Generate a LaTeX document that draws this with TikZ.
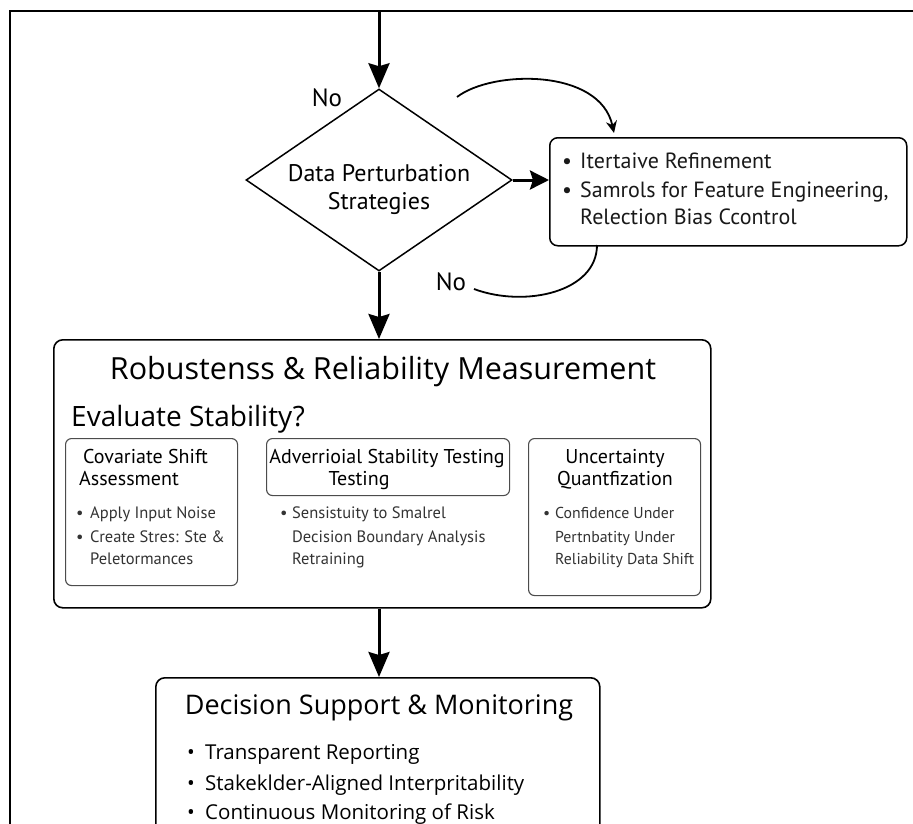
\documentclass[tikz,border=0pt]{standalone}
\usepackage{fontspec}
\setmainfont{Open Sans}
\newfontfamily\pts{PT Sans}
\usetikzlibrary{shapes.geometric,arrows.meta}

% bullet followed by a fixed hanging gap
\newcommand{\bul}[1]{\makebox[#1][l]{\textbullet}}

\tikzset{
  frameline/.style={line width=2pt, line cap=rect},
  bigbox/.style={draw, line width=1.6pt, rounded corners=9pt, anchor=north west, inner sep=0pt},
  subbox/.style={draw=black!70, line width=1.1pt, rounded corners=6pt, anchor=north west, inner sep=0pt},
  decision/.style={draw, diamond, line width=1.5pt, inner sep=0pt},
  flow/.style={line width=3pt, -{Stealth[length=25pt, width=21pt, inset=3pt]}},
  shortflow/.style={line width=3pt, -{Stealth[length=19pt, width=19pt, inset=3pt]}},
  loop/.style={line width=1.8pt},
  lbl/.style={inner sep=0pt, anchor=base west},
  ctr/.style={inner sep=0pt, anchor=base},
  side/.style={font=\pts\fontsize{22}{26}\selectfont, text=black!90},
  cell/.style={font=\pts\fontsize{16.5}{20}\selectfont, text=black!80},
  cellnarrow/.style={font=\pts\fontsize{15.8}{19}\selectfont, text=black!80},
  cellhead/.style={font=\pts\fontsize{20}{24}\selectfont, text=black},
  flowtext/.style={font=\pts\fontsize{24}{28}\selectfont},
}

\begin{document}
\begin{tikzpicture}[x=1pt, y=-1pt]
\clip (0,0) rectangle (913,823);
\fill[white] (0,0) rectangle (913,823);

% outer frame (open at right and bottom)
\draw[frameline] (920,11) -- (10,11) -- (10,830);

% decision diamond
\node[decision, minimum width=266pt, minimum height=182pt] (dec) at (379,180) {};
\node[ctr, flowtext] (decA) at (379,181) {Data Perturbation};
\node[ctr, flowtext] (decB) at (379,209) {Strategies};

% refinement box
\node[bigbox, minimum width=357pt, minimum height=108pt, line width=1.5pt, rounded corners=8pt] (refine) at (549,137) {};
\node[lbl, side] (r1) at (562,168) {\bul{18pt}Itertaive Refinement};
\node[lbl, side] (r2) at (562,197) {\bul{18pt}Samrols for Feature Engineering,};
\node[lbl, side] (r3) at (580,224) {Relection Bias Ccontrol};

% measurement box
\node[bigbox, minimum width=657pt, minimum height=268pt] (meas) at (53,339) {};
\node[ctr, font=\fontsize{30.5}{34}\selectfont] (measT) at (383,379) {Robustenss \& Reliability Measurement};
\node[lbl, font=\fontsize{28}{32}\selectfont] (evalQ) at (71,426) {Evaluate Stability?};

% covariate shift
\node[subbox, minimum width=172pt, minimum height=147pt] (cov) at (65,438) {};
\node[lbl, cellhead] (c1) at (83,463) {Covariate Shift};
\node[lbl, cellhead] (c2) at (79,485) {Assessment};
\node[lbl, cell] (c3) at (76,518) {\bul{14pt}Apply Input Noise};
\node[lbl, cell] (c4) at (76,542) {\bul{14pt}Create Stres: Ste \&};
\node[lbl, cell] (c5) at (90,564) {Peletormances};

% adversarial testing
\node[subbox, minimum width=243pt, minimum height=57pt] (adv) at (266,438) {};
\node[ctr, cellhead] (a1) at (387,463) {Adverrioial Stability Testing};
\node[ctr, cellhead] (a2) at (359,485) {Testing};
\node[lbl, cell] (a3) at (280,518) {\bul{12pt}Sensistuity to Smalrel};
\node[lbl, cell] (a4) at (292,542) {Decision Boundary Analysis};
\node[lbl, cell] (a5) at (292,564) {Retraining};

% uncertainty quantification
\node[subbox, minimum width=172pt, minimum height=157pt] (unc) at (528,438) {};
\node[ctr, cellhead] (u1) at (615,463) {Uncertainty};
\node[ctr, cellhead] (u2) at (615,485) {Quantfization};
\node[lbl, cellnarrow] (u3) at (543,518) {\bul{12pt}Confidence Under};
\node[lbl, cellnarrow] (u4) at (555,542) {Pertnbatity Under};
\node[lbl, cellnarrow] (u5) at (555,564) {Reliability Data Shift};

% decision support box
\node[bigbox, minimum width=444pt, minimum height=200pt] (supp) at (155,677) {};
\node[ctr, font=\fontsize{27}{31}\selectfont] (suppT) at (379,714) {Decision Support \& Monitoring};
\node[lbl, font=\fontsize{20.5}{24}\selectfont] (s1) at (187,759) {\bul{18pt}Transparent Reporting};
\node[lbl, font=\fontsize{20.5}{24}\selectfont] (s2) at (187,790) {\bul{18pt}Stakeklder-Aligned Interpritability};
\node[lbl, font=\fontsize{20.5}{24}\selectfont] (s3) at (187,819) {\bul{18pt}Continuous Monitoring of Risk};

% "No" labels
\node[ctr, font=\pts\fontsize{25}{29}\selectfont] (noA) at (327,106) {No};
\node[ctr, font=\pts\fontsize{25}{29}\selectfont] (noB) at (451,290) {No};

% main flow
\coordinate (entry) at (dec.north |- 0,11);
\draw[flow] (entry) -- (dec.north);
\draw[shortflow] (dec.east) -- (refine.west |- dec.east);
\draw[flow] (dec.south) -- (meas.north -| dec.south);
\draw[flow] (meas.south -| dec.south) -- (supp.north -| dec.south);

% feedback loops
\coordinate (loopStart) at (457,97);
\coordinate (loopEnd) at (614,133);
\draw[loop, -{Stealth[length=12pt, width=11pt]}] (loopStart) .. controls (492,70) and (600,68) .. (loopEnd);
\coordinate (backStart) at (597,245);
\coordinate (backEnd) at (474,289);
\draw[loop] (backStart) .. controls (597,292) and (525,308) .. (backEnd);
\end{tikzpicture}
\end{document}
